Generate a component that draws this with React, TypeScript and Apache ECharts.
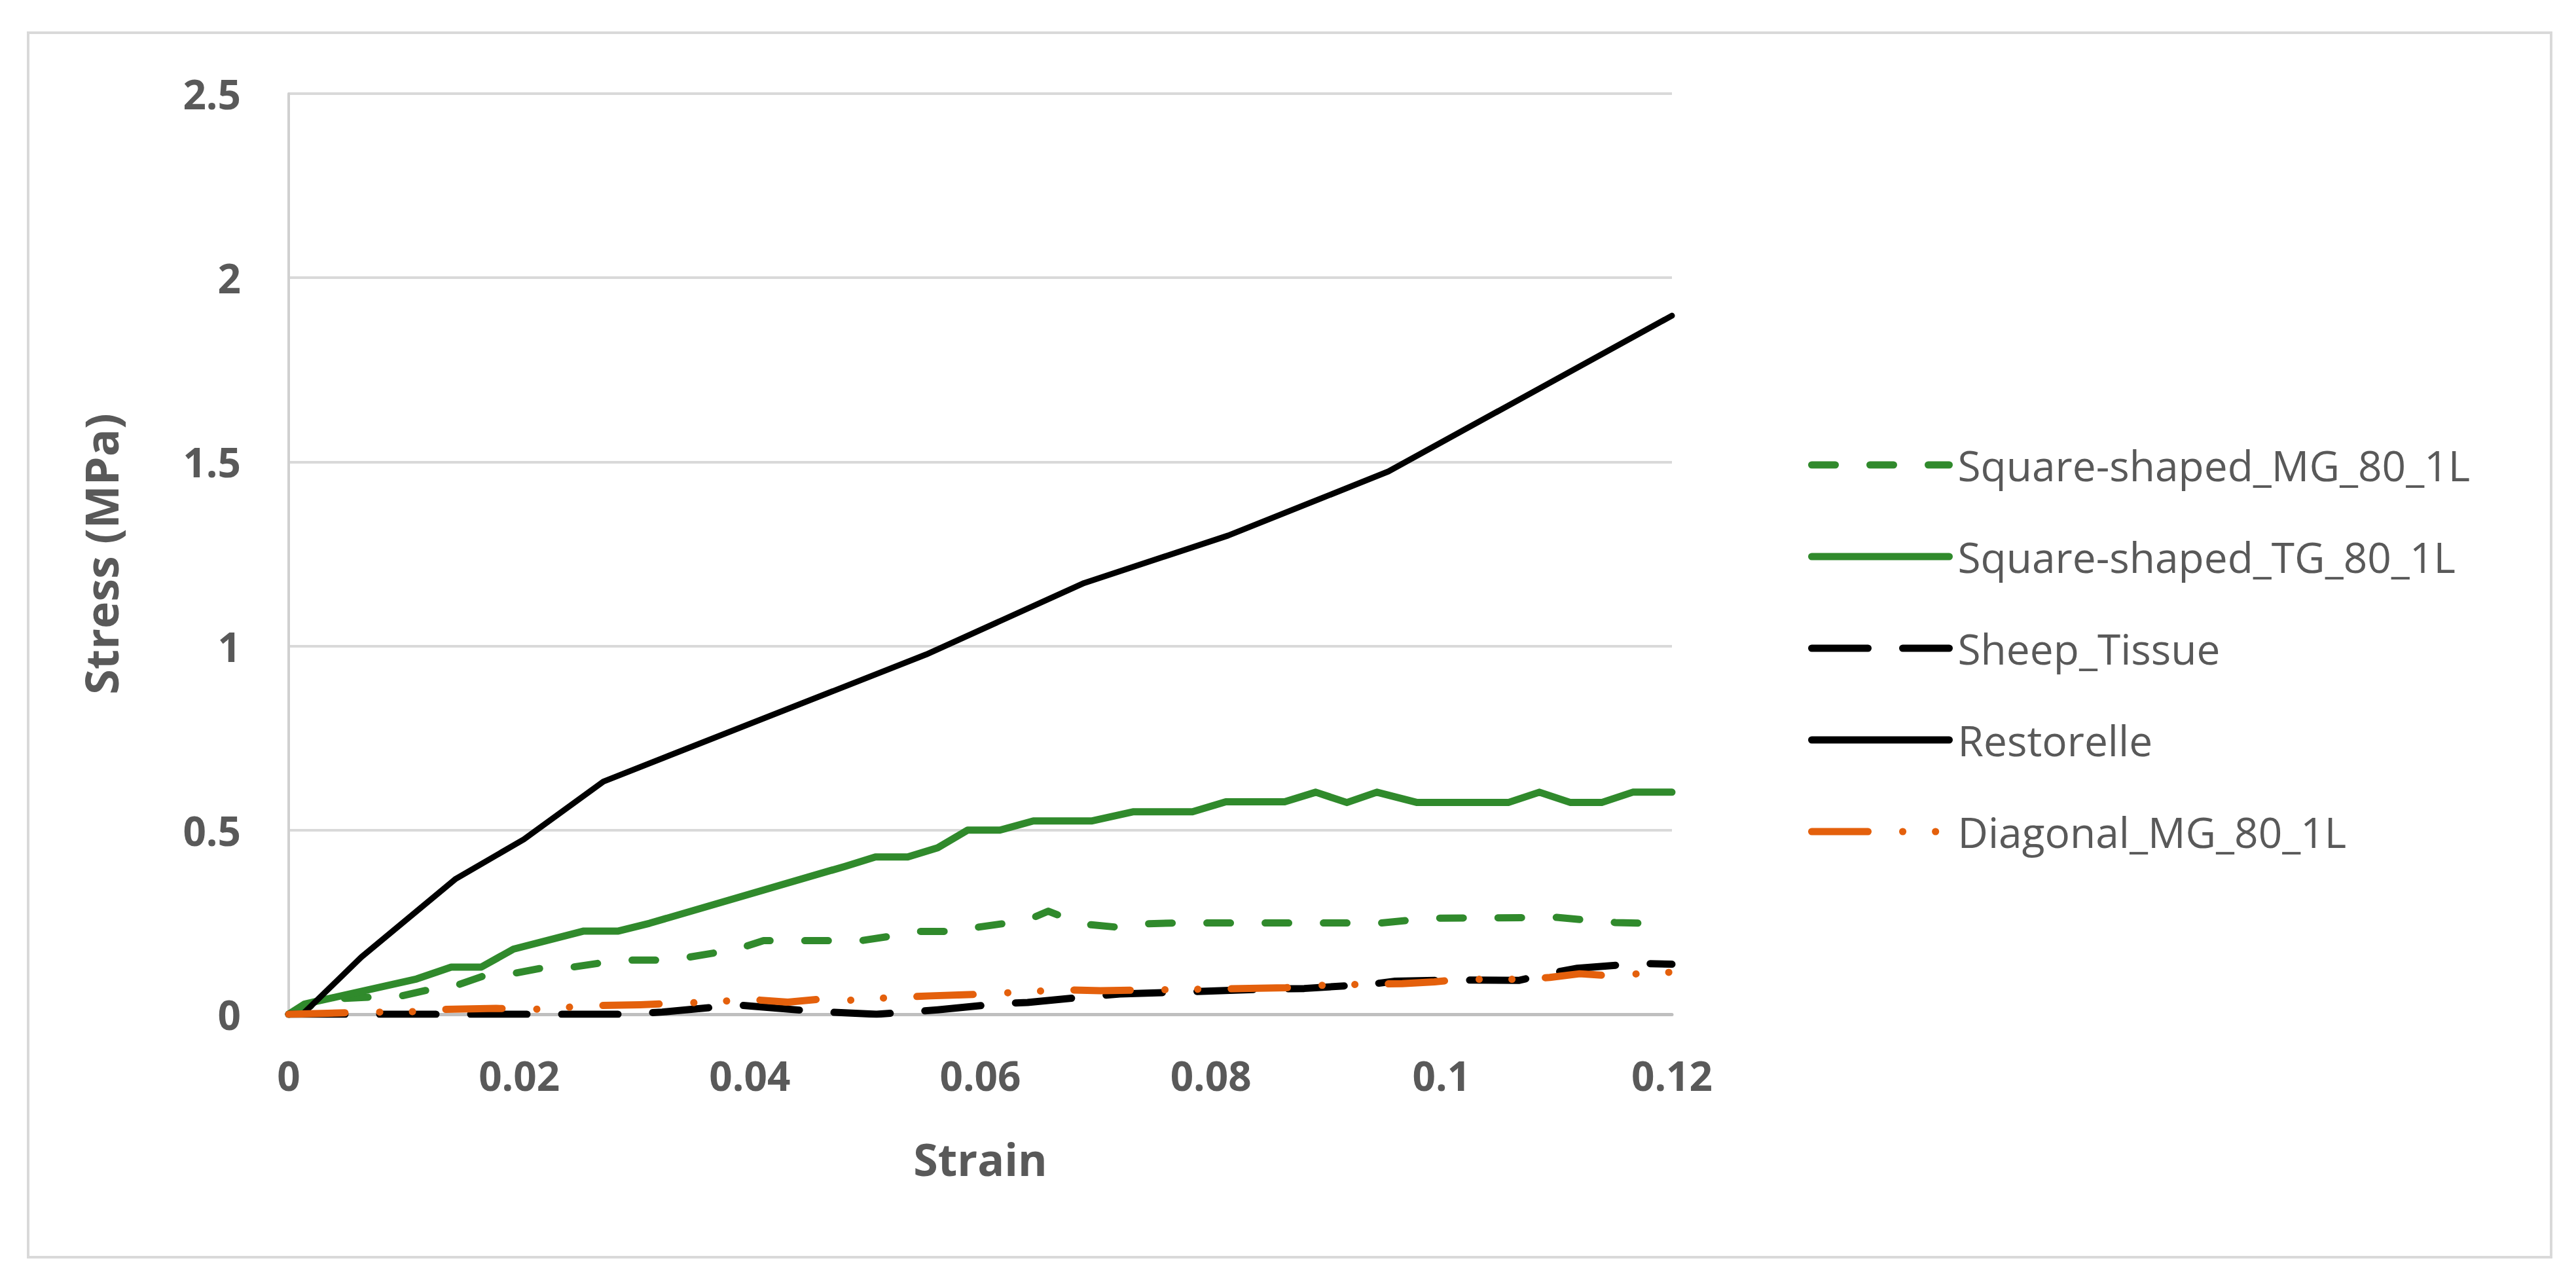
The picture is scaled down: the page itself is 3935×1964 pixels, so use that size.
import React, { useEffect, useRef } from "react";
import * as echarts from "echarts";

const seriesNames = [
  "Square-shaped_MG_80_1L",
  "Square-shaped_TG_80_1L",
  "Sheep_Tissue",
  "Restorelle",
  "Diagonal_MG_80_1L",
];

const xTicks = { min: 0, max: 0.12, interval: 0.02 };
const yTicks = { min: 0, max: 2.5, interval: 0.5 };

const squareMG: [number, number][] = [
  [0, 0], [0.0025, 0.03], [0.0046, 0.043], [0.0098, 0.05], [0.0121, 0.066],
  [0.0147, 0.08], [0.017, 0.105], [0.0197, 0.112], [0.0219, 0.125], [0.0246, 0.128],
  [0.0272, 0.14], [0.0297, 0.147], [0.0322, 0.147], [0.0347, 0.155], [0.0372, 0.168],
  [0.0397, 0.185], [0.0412, 0.2], [0.0473, 0.2], [0.0497, 0.2], [0.0522, 0.212],
  [0.0546, 0.225], [0.0573, 0.225], [0.0597, 0.236], [0.0622, 0.247], [0.0647, 0.264],
  [0.0659, 0.28], [0.0672, 0.264], [0.0696, 0.243], [0.072, 0.236], [0.0746, 0.246],
  [0.0771, 0.248], [0.0948, 0.248], [0.0974, 0.256], [0.0998, 0.261], [0.11, 0.263],
  [0.1125, 0.256], [0.1151, 0.249], [0.12, 0.245],
];

const squareTG: [number, number][] = [
  [0, 0], [0.0014, 0.028], [0.0111, 0.096], [0.0141, 0.128], [0.0167, 0.128],
  [0.0195, 0.177], [0.0256, 0.226], [0.0286, 0.226], [0.0313, 0.247], [0.0483, 0.402],
  [0.0509, 0.427], [0.0537, 0.427], [0.0563, 0.452], [0.0589, 0.5], [0.0617, 0.5],
  [0.0646, 0.525], [0.0697, 0.525], [0.0733, 0.55], [0.0784, 0.55], [0.0813, 0.577],
  [0.0864, 0.577], [0.0891, 0.603], [0.0918, 0.575], [0.0944, 0.603], [0.0979, 0.575],
  [0.1058, 0.575], [0.1085, 0.603], [0.1112, 0.575], [0.1139, 0.575], [0.1166, 0.603],
  [0.12, 0.603],
];

const sheepTissue: [number, number][] = [
  [0, 0], [0.029, 0], [0.0324, 0.006], [0.039, 0.025], [0.046, 0.007],
  [0.051, 0.0], [0.0538, 0.006], [0.0563, 0.012], [0.0618, 0.029], [0.0641, 0.032],
  [0.0697, 0.049], [0.0721, 0.055], [0.0855, 0.069], [0.0881, 0.07], [0.094, 0.082],
  [0.096, 0.09], [0.1014, 0.093], [0.1067, 0.092], [0.1094, 0.111], [0.1118, 0.125],
  [0.1172, 0.138], [0.12, 0.136],
];

const restorelle: [number, number][] = [
  [0.0012, 0], [0.0063, 0.155], [0.0145, 0.368], [0.0204, 0.475], [0.0273, 0.632],
  [0.0553, 0.977], [0.069, 1.171], [0.0815, 1.3], [0.0954, 1.474], [0.12, 1.897],
];

const diagonalMG: [number, number][] = [
  [0, 0], [0.0075, 0.006], [0.0103, 0.006], [0.0128, 0.013], [0.018, 0.016],
  [0.0207, 0.013], [0.0233, 0.016], [0.0255, 0.023], [0.0305, 0.026], [0.0357, 0.032],
  [0.0402, 0.04], [0.0433, 0.033], [0.0458, 0.04], [0.0482, 0.037], [0.0508, 0.043],
  [0.0557, 0.05], [0.0608, 0.055], [0.0641, 0.062], [0.0681, 0.066], [0.0704, 0.064],
  [0.0811, 0.069], [0.0865, 0.072], [0.089, 0.078], [0.094, 0.082], [0.0966, 0.083],
  [0.0994, 0.088], [0.1018, 0.095], [0.1067, 0.095], [0.1094, 0.1], [0.112, 0.11],
  [0.1144, 0.105], [0.1193, 0.114], [0.12, 0.114],
];

const GREEN = "#308A2C";
const BLACK = "#000000";
const ORANGE = "#E4600C";
const TEXT = "#595959";
const FONT = "'Open Sans', 'Noto Sans', sans-serif";

export default function App() {
  const ref = useRef<HTMLDivElement>(null);
  useEffect(() => {
    document.body.style.margin = "0";
    const chart = echarts.init(ref.current!, null, { renderer: "svg" });
    const mk = (name: string, data: [number, number][], color: string, width: number, type: any) => ({
      name,
      type: "line",
      data,
      symbol: "none",
      showSymbol: false,
      lineStyle: { color, width, type, cap: "round", join: "round" },
      itemStyle: { color },
    });
    chart.setOption({
      animation: false,
      backgroundColor: "#ffffff",
      grid: { left: 441, right: 3935 - 2554, top: 143, bottom: 1964 - 1549, containLabel: false },
      graphic: [
        {
          type: "rect",
          shape: { x: 43, y: 50, width: 3854, height: 1870 },
          style: { fill: "none", stroke: "#d9d9d9", lineWidth: 4 },
          silent: true,
          z: -10,
        },
      ],
      xAxis: {
        type: "value",
        min: xTicks.min,
        max: xTicks.max,
        interval: xTicks.interval,
        name: "Strain",
        nameLocation: "middle",
        nameGap: 186,
        nameTextStyle: { fontFamily: FONT, fontSize: 68, fontWeight: "bold", color: TEXT },
        axisLine: { show: true, lineStyle: { color: "#bfbfbf", width: 5 } },
        axisTick: { show: false },
        splitLine: { show: false },
        axisLabel: { fontFamily: FONT, fontSize: 62, fontWeight: "bold", color: TEXT, margin: 62 },
      },
      yAxis: {
        type: "value",
        min: yTicks.min,
        max: yTicks.max,
        interval: yTicks.interval,
        name: "Stress (MPa)",
        nameLocation: "middle",
        nameGap: 252,
        nameTextStyle: { fontFamily: FONT, fontSize: 70, fontWeight: "bold", color: TEXT },
        axisLine: { show: true, lineStyle: { color: "#d0d0d0", width: 4 } },
        axisTick: { show: false },
        splitLine: { show: true, lineStyle: { color: "#d9d9d9", width: 4 } },
        axisLabel: { fontFamily: FONT, fontSize: 62, fontWeight: "bold", color: TEXT, margin: 73 },
      },
      legend: {
        orient: "vertical",
        left: 2757,
        top: 665,
        itemWidth: 210,
        itemHeight: 20,
        itemGap: 60,
        data: seriesNames,
        lineStyle: { width: 11 },
        itemStyle: { color: "rgba(0,0,0,0)", borderColor: "rgba(0,0,0,0)", borderWidth: 0, opacity: 0 },
        textStyle: { fontFamily: FONT, fontSize: 64, color: TEXT, lineHeight: 80, padding: [0, 0, 0, 8] },
      },
      series: [
        mk(seriesNames[0], squareMG, GREEN, 11, [36, 53]),
        mk(seriesNames[1], squareTG, GREEN, 11, "solid"),
        mk(seriesNames[2], sheepTissue, BLACK, 11, [86, 53]),
        mk(seriesNames[3], restorelle, BLACK, 9, "solid"),
        mk(seriesNames[4], diagonalMG, ORANGE, 11, [86, 53, 0.1, 50, 0.1, 51]),
      ],
    });
    return () => chart.dispose();
  }, []);
  return <div ref={ref} style={{ width: 3935, height: 1964, background: "#fff" }} />;
}
